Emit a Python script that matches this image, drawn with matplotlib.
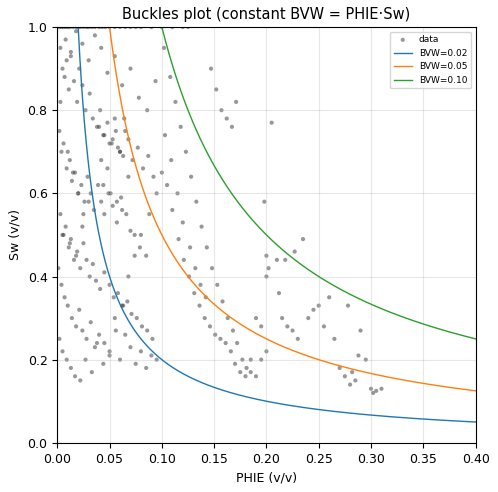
import numpy as np
import matplotlib
matplotlib.use("Agg")
import matplotlib.pyplot as plt
plt.rcParams['font.size'] = 9

phie = [0.002,0.004,0.006,0.008,0.01,0.012,0.015,0.018,0.02,0.022,0.025,0.028,0.03,0.033,0.036,0.04,0.043,0.046,0.05,0.055,0.06,0.065,0.07,0.075,0.08,0.09,0.1,0.11,0.12,0.125,
 0.003,0.005,0.007,0.009,0.011,0.013,0.016,0.019,0.021,0.024,0.027,0.031,0.034,0.038,0.041,0.044,0.048,0.052,0.056,0.06,0.064,0.068,0.072,0.077,0.082,0.087,0.092,
 0.002,0.004,0.006,0.009,0.012,0.014,0.017,0.02,0.023,0.026,0.029,0.032,0.035,0.039,0.042,0.045,0.049,0.053,0.057,0.061,0.066,0.07,0.074,0.079,0.085,
 0.003,0.006,0.008,0.011,0.013,0.016,0.019,0.022,0.025,0.028,0.031,0.034,0.037,0.041,0.045,0.05,0.054,0.058,0.063,0.067,0.071,0.076,0.081,0.086,0.091,
 0.001,0.004,0.007,0.01,0.014,0.018,0.021,0.024,0.028,0.032,0.036,0.04,0.045,0.05,0.055,0.06,0.065,0.07,0.075,0.08,0.085,0.09,0.095,
 0.002,0.005,0.009,0.013,0.017,0.022,0.027,0.033,0.038,0.044,0.05,0.056,0.062,0.068,0.074,0.08,0.088,0.095,0.1,
 0.003,0.008,0.013,0.018,0.024,0.03,0.036,0.042,0.048,0.055,0.062,0.07,0.078,0.086,0.094,
 0.102,0.108,0.113,0.118,0.123,0.128,0.133,0.138,0.143,0.148,0.153,0.158,0.163,0.168,0.172,0.177,0.181,0.185,0.19,0.195,0.2,
 0.105,0.11,0.116,0.121,0.126,0.131,0.136,0.141,0.146,0.151,0.156,0.161,0.166,0.17,0.175,0.18,
 0.103,0.109,0.115,0.12,0.127,0.132,0.137,0.142,0.147,0.152,0.157,0.162,0.167,0.171,
 0.198,0.2,0.202,0.205,0.21,0.215,0.22,0.225,0.23,0.24,0.25,0.26,0.27,0.275,0.28,0.285,0.29,0.295,0.3,0.305,0.31,
 0.185,0.19,0.195,0.2,0.212,0.218,0.227,0.235,0.245,0.255,0.265,0.278,0.282,0.288,0.302,
 0.04,0.045,0.05,0.055,0.06,0.065,0.042,0.048,0.053,0.058,0.063,0.068,0.044,0.051,0.057,0.062,0.01,0.015,0.02,0.025,0.005,0.012,0.018,0.024,0.03]
sw = [1.0,1.0,1.0,1.0,1.0,1.0,1.0,1.0,1.0,1.0,1.0,1.0,1.0,1.0,1.0,1.0,1.0,1.0,1.0,1.0,1.0,1.0,1.0,1.0,1.0,1.0,1.0,1.0,1.0,1.0,
 0.95,0.9,0.88,0.92,0.85,0.93,0.87,0.82,0.9,0.86,0.8,0.84,0.78,0.76,0.8,0.74,0.77,0.72,0.75,0.7,0.78,0.73,0.68,0.71,0.66,0.69,0.64,
 0.75,0.7,0.72,0.66,0.68,0.63,0.65,0.6,0.62,0.58,0.64,0.6,0.56,0.62,0.58,0.55,0.6,0.57,0.53,0.59,0.55,0.51,0.5,0.47,0.45,
 0.55,0.5,0.52,0.47,0.49,0.44,0.46,0.42,0.48,0.44,0.4,0.43,0.39,0.37,0.41,0.38,0.35,0.36,0.33,0.34,0.31,0.3,0.28,0.27,0.25,
 0.42,0.38,0.35,0.33,0.3,0.28,0.32,0.27,0.25,0.29,0.23,0.26,0.24,0.22,0.3,0.2,0.26,0.23,0.19,0.22,0.18,0.21,0.2,
 0.25,0.22,0.2,0.18,0.16,0.15,0.2,0.17,0.24,0.19,0.21,0.27,0.33,0.4,0.45,0.5,0.55,0.6,0.65,
 0.82,0.97,0.94,0.99,0.96,0.92,0.98,0.95,0.89,0.93,0.86,0.9,0.83,0.8,0.87,
 0.95,0.88,0.82,0.76,0.7,0.64,0.58,0.52,0.47,0.42,0.38,0.34,0.3,0.27,0.24,0.2,0.18,0.17,0.16,0.2,0.22,
 0.62,0.56,0.49,0.44,0.4,0.36,0.33,0.3,0.28,0.26,0.25,0.24,0.22,0.19,0.17,0.16,
 0.74,0.68,0.6,0.53,0.47,0.42,0.38,0.35,0.9,0.85,0.8,0.78,0.76,0.82,
 0.58,0.45,0.42,0.77,0.44,0.3,0.28,0.27,0.25,0.3,0.33,0.35,0.18,0.16,0.14,0.15,0.27,0.2,0.13,0.125,0.13,
 0.2,0.3,0.28,0.4,0.36,0.44,0.46,0.49,0.32,0.28,0.25,0.33,0.17,0.21,0.12,
 0.76,0.74,0.72,0.78,0.7,0.75,0.68,0.66,0.73,0.71,0.69,0.64,0.62,0.6,0.58,0.56,0.7,0.65,0.6,0.55,0.5,0.48,0.45,0.52,0.58]

bvw_values = [0.02, 0.05, 0.10]
colors = ["#1f77b4", "#ff7f0e", "#2ca02c"]

fig, ax = plt.subplots(figsize=(4.98, 4.92), dpi=100)
ax.scatter(phie, sw, s=9, c="#333333", alpha=0.5, edgecolors="none", label="data")
x = np.linspace(0.001, 0.4, 800)
for b, c in zip(bvw_values, colors):
    ax.plot(x, b / x, color=c, lw=1, label=f"BVW={b:.2f}")
ax.set_xlim(0, 0.4)
ax.set_ylim(0, 1)
ax.set_xlabel("PHIE (v/v)")
ax.set_ylabel("Sw (v/v)")
ax.set_title("Buckles plot (constant BVW = PHIE·Sw)", fontsize=10.5)
ax.grid(True, alpha=0.3)
ax.legend(fontsize=6.5, loc="upper right")
fig.subplots_adjust(left=0.115, right=0.955, bottom=0.1, top=0.945)
fig.savefig("out.png", dpi=100)
